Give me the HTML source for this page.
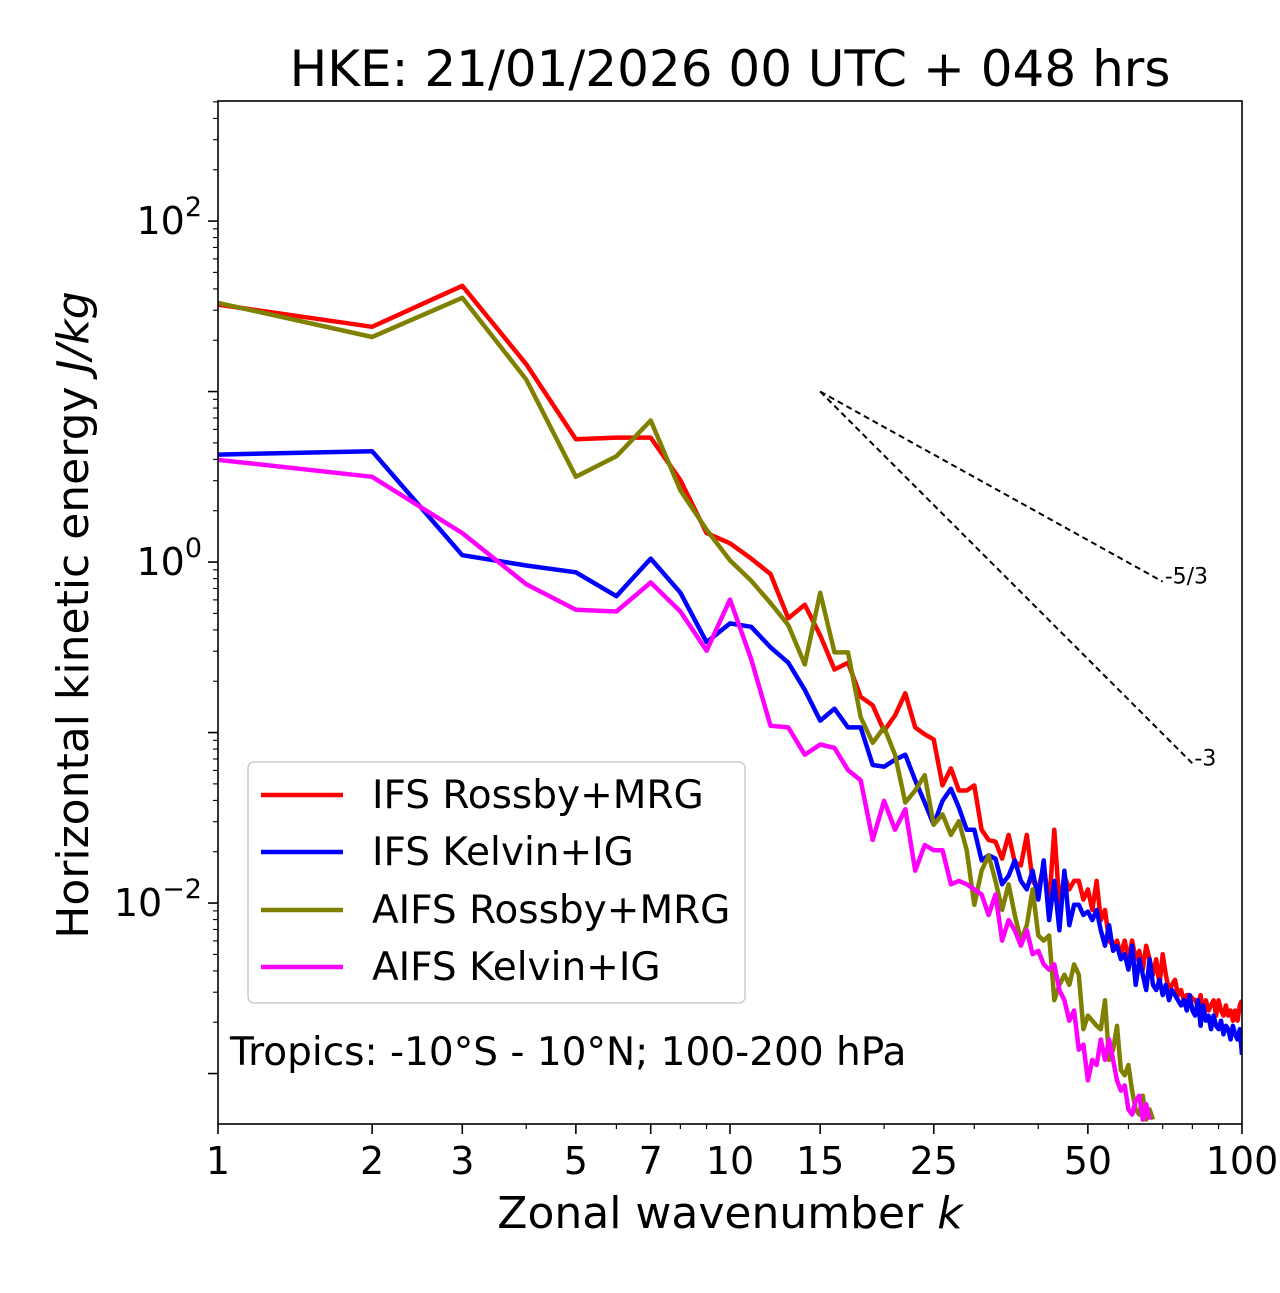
<!DOCTYPE html>
<html><head><meta charset="utf-8"><style>
body{margin:0;background:#fff}
svg text{font-family:"DejaVu Sans","Liberation Sans",sans-serif;fill:#000}
</style></head><body>
<svg id="chart" width="1280" height="1288" viewBox="0 0 1280 1288" xmlns="http://www.w3.org/2000/svg">
<defs><clipPath id="clip"><rect x="218" y="101" width="1024" height="1023"/></clipPath></defs>
<rect width="1280" height="1288" fill="#fff"/>
<text x="730" y="86" font-size="50" text-anchor="middle">HKE: 21/01/2026 00 UTC + 048 hrs</text>
<g id="axes"></g>
<g id="series" clip-path="url(#clip)"></g>
<rect x="218" y="101" width="1024" height="1023" fill="none" stroke="#000" stroke-width="1.6"/>
<text transform="translate(88,615) rotate(-90)" font-size="44" text-anchor="middle">Horizontal kinetic energy <tspan font-style="italic">J/kg</tspan></text>
<text x="730" y="1228" font-size="44" text-anchor="middle">Zonal wavenumber <tspan font-style="italic">k</tspan></text>
<g>
<rect x="248" y="762" width="497" height="241" rx="6" fill="#fff" fill-opacity="0.8" stroke="#ccc" stroke-width="1.5"/>
<line x1="261" y1="795" x2="343" y2="795" stroke="#ff0000" stroke-width="4.5"/><text x="372" y="808" font-size="39">IFS Rossby+MRG</text>
<line x1="261" y1="852" x2="343" y2="852" stroke="#0000ff" stroke-width="4.5"/><text x="372" y="865" font-size="39">IFS Kelvin+IG</text>
<line x1="261" y1="910" x2="343" y2="910" stroke="#808000" stroke-width="4.5"/><text x="372" y="923" font-size="39">AIFS Rossby+MRG</text>
<line x1="261" y1="967" x2="343" y2="967" stroke="#ff00ff" stroke-width="4.5"/><text x="372" y="980" font-size="39">AIFS Kelvin+IG</text>
</g>
<text x="230" y="1065" font-size="39">Tropics: -10°S - 10°N; 100-200 hPa</text>
</svg>
<script>
// log10 energy (J/kg) for k = 1..N
const ifsRossby=[1.51,1.38,1.62,1.16,0.72,0.73,0.73,0.48,0.17,0.11,0.02,-0.07,-0.33,-0.25,-0.43,-0.63,-0.59,-0.79,-0.84,-0.99,-0.90,-0.77,-0.97,-1.01,-1.04,-1.31,-1.21,-1.34,-1.34,-1.31,-1.57,-1.63,-1.64,-1.74,-1.60,-1.76,-1.78,-1.60,-1.87,-1.92,-1.78,-2.01,-1.57,-2.01,-1.84,-1.92,-1.87,-1.87,-1.98,-1.92,-2.04,-1.87,-2.10,-2.04,-2.22,-2.25,-2.22,-2.30,-2.22,-2.33,-2.22,-2.33,-2.28,-2.39,-2.25,-2.33,-2.42,-2.33,-2.48,-2.30,-2.42,-2.51,-2.48,-2.45,-2.54,-2.51,-2.57,-2.54,-2.54,-2.56,-2.57,-2.60,-2.54,-2.63,-2.57,-2.63,-2.60,-2.57,-2.66,-2.57,-2.63,-2.66,-2.60,-2.66,-2.63,-2.69,-2.63,-2.69,-2.60,-2.57];
const ifsKelvin=[0.63,0.65,0.04,-0.02,-0.06,-0.20,0.02,-0.18,-0.47,-0.36,-0.38,-0.50,-0.59,-0.75,-0.93,-0.86,-0.97,-0.97,-1.19,-1.20,-1.16,-1.13,-1.28,-1.41,-1.54,-1.40,-1.33,-1.44,-1.57,-1.57,-1.75,-1.72,-1.74,-1.89,-1.84,-1.75,-1.87,-1.92,-1.81,-1.98,-1.75,-2.10,-1.87,-2.16,-1.81,-2.13,-2.01,-2.01,-2.07,-2.05,-2.10,-2.04,-2.16,-2.25,-2.13,-2.28,-2.25,-2.33,-2.30,-2.39,-2.25,-2.48,-2.33,-2.42,-2.51,-2.33,-2.48,-2.51,-2.45,-2.54,-2.48,-2.57,-2.51,-2.54,-2.57,-2.60,-2.57,-2.63,-2.54,-2.63,-2.66,-2.57,-2.72,-2.60,-2.69,-2.66,-2.74,-2.66,-2.72,-2.74,-2.69,-2.77,-2.72,-2.74,-2.80,-2.72,-2.77,-2.80,-2.74,-2.89];
const aifsRossby=[1.52,1.32,1.55,1.07,0.50,0.62,0.83,0.42,0.19,0.01,-0.11,-0.24,-0.37,-0.60,-0.18,-0.53,-0.53,-0.91,-1.06,-0.97,-1.13,-1.41,-1.34,-1.25,-1.54,-1.48,-1.60,-1.52,-1.69,-2.01,-1.81,-1.72,-1.87,-2.04,-1.89,-2.07,-2.22,-2.13,-1.92,-2.19,-2.22,-2.19,-2.57,-2.48,-2.42,-2.48,-2.36,-2.42,-2.74,-2.66,-2.69,-2.72,-2.74,-2.57,-2.92,-2.86,-2.72,-2.98,-3.01,-2.95,-3.10,-3.21,-3.24,-3.13,-3.27,-3.21,-3.27];
const aifsKelvin=[0.60,0.50,0.17,-0.13,-0.28,-0.29,-0.12,-0.29,-0.52,-0.22,-0.57,-0.96,-0.97,-1.13,-1.07,-1.09,-1.22,-1.28,-1.63,-1.40,-1.57,-1.45,-1.81,-1.66,-1.69,-1.69,-1.89,-1.87,-1.89,-1.92,-1.95,-2.07,-1.95,-2.22,-2.10,-2.16,-2.25,-2.16,-2.30,-2.28,-2.36,-2.39,-2.36,-2.51,-2.57,-2.69,-2.63,-2.86,-2.83,-3.04,-2.92,-2.95,-2.80,-2.92,-2.80,-2.92,-3.04,-3.10,-3.07,-3.21,-3.24,-3.16,-3.13,-3.27,-3.18,-3.27];
const xTickLabels=[1,2,3,5,7,10,15,25,50,100];
const xMinor=[4,6,8,9,20,30,40,60,70,80,90];
const yDecades=[-3,-2,-1,0,1,2];
const yLabelDecades=[0,2,-2];
const slopes=[{s:-5/3,k1:15,k2:70,label:"-5/3"},{s:-3,k1:15,k2:80,label:"-3"}];
const slopeAnchorE=10;

const X0=218,X1=1242,Y0=101,Y1=1124;
const xs=k=>X0+(X1-X0)*Math.log10(k)/2;
const yMin=Math.log10(5.06e-4),yMax=Math.log10(506);
const ysL=l=>Y1-(Y1-Y0)*(l-yMin)/(yMax-yMin);
const ys=v=>ysL(Math.log10(v));
const NS="http://www.w3.org/2000/svg";
function mk(tag,attrs,parent){const e=document.createElementNS(NS,tag);for(const a in attrs)e.setAttribute(a,attrs[a]);parent.appendChild(e);return e;}
const axes=document.getElementById('axes'),ser=document.getElementById('series');

xTickLabels.forEach(k=>{
  const x=xs(k);
  const t=mk('line',{x1:x,x2:x,y1:Y1,y2:Y1+10,stroke:'#000','stroke-width':1.6},axes);
  
  
  const tx=mk('text',{x:x,y:Y1+50,'font-size':38,'text-anchor':'middle'},axes);
  tx.textContent=k;
  
  
});
xMinor.forEach(k=>{
  const x=xs(k);
  const t=mk('line',{x1:x,x2:x,y1:Y1,y2:Y1+5,stroke:'#000','stroke-width':1.2},axes);
  
  
});
yDecades.forEach(d=>{
  const y=ysL(d);
  if(y>=Y0-0.5&&y<=Y1+0.5){
    const t=mk('line',{x1:X0-10,x2:X0,y1:y,y2:y,stroke:'#000','stroke-width':1.6},axes);
    
    
  }
  for(let m=2;m<10;m++){
    const ym=ysL(d+Math.log10(m));
    if(ym<Y0||ym>Y1)continue;
    const t=mk('line',{x1:X0-5,x2:X0,y1:ym,y2:ym,stroke:'#000','stroke-width':1.1},axes);
    
    
  }
});
yLabelDecades.forEach(d=>{
  const y=ysL(d);
  const tx=mk('text',{x:X0-16,y:y+13,'font-size':38,'text-anchor':'end'},axes);
  tx.innerHTML='10<tspan dy="-18" font-size="27">'+(d<0?'\u2212'+(-d):d)+'</tspan>';
  
  
});

function drawSeries(arr,color,name){
  const pts=arr.map((l,i)=>xs(i+1).toFixed(1)+','+ysL(l).toFixed(1)).join(' ');
  const p=mk('polyline',{points:pts,fill:'none',stroke:color,'stroke-width':4.5,'stroke-linejoin':'round'},ser);
  
  
}
drawSeries(ifsRossby,'#ff0000','ifs-rossby-line');
drawSeries(ifsKelvin,'#0000ff','ifs-kelvin-line');
drawSeries(aifsRossby,'#808000','aifs-rossby-line');
drawSeries(aifsKelvin,'#ff00ff','aifs-kelvin-line');

slopes.forEach(sl=>{
  const e2=slopeAnchorE*Math.pow(sl.k2/sl.k1,sl.s);
  const l=mk('line',{x1:xs(sl.k1),y1:ys(slopeAnchorE),x2:xs(sl.k2),y2:ys(e2),stroke:'#000','stroke-width':2,'stroke-dasharray':'6,4'},axes);
  
  
  const t=mk('text',{x:xs(sl.k2)+2,y:ys(e2)+2,'font-size':22},axes);
  t.textContent=sl.label;
  
  
});
</script>
</body></html>
